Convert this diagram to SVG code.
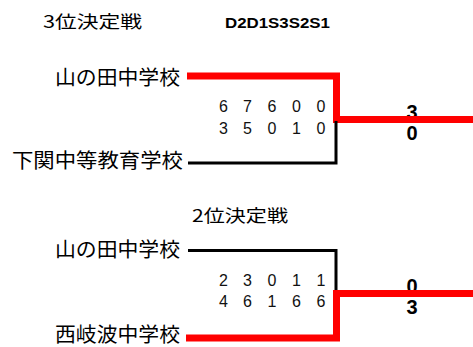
<svg xmlns="http://www.w3.org/2000/svg" width="473" height="347" viewBox="0 0 473 347">
<style>
.jp{font-family:"Noto Sans CJK JP","Noto Sans",sans-serif;fill:#000;}
.title{font-size:17px;}
.team{font-size:20px;}
.code{font-family:"Liberation Sans",Arial,sans-serif;font-weight:bold;font-size:15px;fill:#000;}
.set{font-family:"Liberation Sans",Arial,sans-serif;font-size:16px;fill:#111;text-anchor:middle;}
.big{font-family:"Liberation Sans",Arial,sans-serif;font-weight:bold;font-size:20px;fill:#000;text-anchor:middle;}
.win{fill:none;stroke:#FF0000;stroke-width:7;stroke-linejoin:miter;stroke-linecap:butt;}
.lose{fill:none;stroke:#000;stroke-width:3;stroke-linejoin:miter;stroke-linecap:butt;}
</style>
<rect width="473" height="347" fill="#fff"/>
<g id="titles">
<text class="jp title" x="43" y="28" textLength="99" lengthAdjust="spacingAndGlyphs">3位決定戦</text>
<text class="code" x="225" y="28" textLength="105" lengthAdjust="spacingAndGlyphs">D2D1S3S2S1</text>
<text class="jp title" x="192" y="222" textLength="96" lengthAdjust="spacingAndGlyphs">2位決定戦</text>
</g>
<g id="sets">
<text id="sets-top-1" class="set" x="223.5 247.5 272 296.5 321" y="112">67600</text>
<text id="sets-top-2" class="set" x="223.5 247.5 272 296.5 321" y="134">35010</text>
<text id="sets-bot-1" class="set" x="223.5 247.5 272 296.5 321" y="286">23011</text>
<text id="sets-bot-2" class="set" x="223.5 247.5 272 296.5 321" y="307">46166</text>
</g>
<g id="scores">
<text id="score-top-1" class="big" x="412" y="119">3</text>
<text id="score-top-2" class="big" x="412" y="140">0</text>
<text id="score-bot-1" class="big" x="412" y="293">0</text>
<text id="score-bot-2" class="big" x="412" y="314">3</text>
</g>
<g id="connectors">
<path class="win" d="M187,76 H336.5 V119.5 H473"/>
<path class="lose" d="M336,121 V163 H188"/>
<path class="lose" d="M188,250.5 H336 V291"/>
<path class="win" d="M186,338 H336.5 V293.5 H473"/>
</g>
<g id="team-yamanota-1"><text class="jp team" x="55" y="85" textLength="125" lengthAdjust="spacingAndGlyphs">山の田中学校</text></g>
<g id="team-shimonoseki"><text class="jp team" x="12" y="168" textLength="171" lengthAdjust="spacingAndGlyphs">下関中等教育学校</text></g>
<g id="team-yamanota-2"><text class="jp team" x="55" y="257" textLength="125" lengthAdjust="spacingAndGlyphs">山の田中学校</text></g>
<g id="team-nishikiwa"><text class="jp team" x="55" y="342" textLength="125" lengthAdjust="spacingAndGlyphs">西岐波中学校</text></g>
</svg>
